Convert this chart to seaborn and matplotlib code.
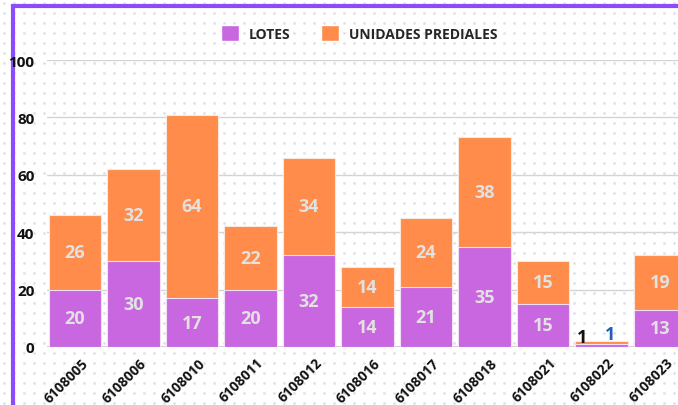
import numpy as np
import pandas as pd
import matplotlib
matplotlib.use("Agg")
import matplotlib.pyplot as plt
import seaborn as sns
from matplotlib.patches import Patch

# data
predios = ["6108005", "6108006", "6108010", "6108011", "6108012", "6108016",
           "6108017", "6108018", "6108021", "6108022", "6108023"]
lotes = [20, 30, 17, 20, 32, 14, 21, 35, 15, 1, 13]
unidades = [26, 32, 64, 22, 34, 14, 24, 38, 15, 1, 19]
y_ticks = [0, 20, 40, 60, 80, 100]

C_LOTES = "#c867e0"
C_UNID = "#ff8c4a"
C_BORDER = "#8c4cfc"
C_LABEL = "#e2e2e2"

sns.set_theme(style="white")
plt.rcParams["font.family"] = ["Open Sans", "DejaVu Sans"]

df = pd.DataFrame({"predio": predios, "lotes": lotes, "unidades": unidades})
df["total"] = df["lotes"] + df["unidades"]

W, H = 678, 406
fig = plt.figure(figsize=(W / 100, H / 100), dpi=100)

# dotted background
bg = fig.add_axes([0, 0, 1, 1])
bg.set_xlim(0, W)
bg.set_ylim(H, 0)
gx, gy = np.meshgrid(np.arange(4, W, 10), np.arange(4, H, 10))
bg.scatter(gx.ravel(), gy.ravel(), s=4, color="#e0e0e8", linewidths=0)
# purple frame (top + left)
bg.plot([13, 13, W], [H, 7, 7], color=C_BORDER, lw=3, solid_joinstyle="miter")
bg.axis("off")

# plot area
x0, x1, ytop, ybot = 47, W, 61, 348
ax = fig.add_axes([x0 / W, (H - ybot) / H, (x1 - x0) / W, (ybot - ytop) / H])
ax.patch.set_alpha(0)

sns.barplot(data=df, x="predio", y="total", color=C_UNID, width=0.89, saturation=1,
            edgecolor="#fbe6dc", linewidth=0.8, ax=ax, zorder=3)
sns.barplot(data=df, x="predio", y="lotes", color=C_LOTES, width=0.89, saturation=1,
            edgecolor="#f1e0f6", linewidth=0.8, ax=ax, zorder=4)

step = 58.5
c0 = 75
ax.set_xlim(-(c0 - x0) / step, (x1 - c0) / step)
ax.set_ylim(0, 100)
ax.set_yticks(y_ticks)
# labels sit a little right of the bar centre in the reference
ax.set_xticks(np.arange(len(predios)) + 0.1, predios)
ax.yaxis.grid(True, color="#d4d4d4", lw=1, zorder=0)
ax.axhline(0, color="#cfcfcf", lw=1.5, zorder=2)
for s in ax.spines.values():
    s.set_visible(False)
ax.set_xlabel("")
ax.set_ylabel("")
ax.tick_params(axis="y", length=0, pad=9, labelsize=11)
ax.tick_params(axis="x", length=0, pad=6, labelsize=10)
for t in ax.get_yticklabels():
    t.set_fontweight("bold")
    t.set_color("#111111")
plt.setp(ax.get_xticklabels(), rotation=45, ha="right", rotation_mode="anchor",
         fontweight="bold", color="#111111")

# segment labels
for i, row in df.iterrows():
    lo, un = row["lotes"], row["unidades"]
    if lo < 4 and un < 4:
        ax.text(i - 0.33, row["total"] - 1.5, str(lo), ha="center", va="bottom",
                fontsize=13, fontweight="bold", color="#111111", zorder=6)
        ax.text(i + 0.15, row["total"] - 0.5, str(un), ha="center", va="bottom",
                fontsize=13, fontweight="bold", color="#1f5fb5", zorder=6)
        continue
    ax.text(i, lo / 2, str(lo), ha="center", va="center", fontsize=13,
            fontweight="bold", color=C_LABEL, zorder=6)
    ax.text(i, lo + un / 2, str(un), ha="center", va="center", fontsize=13,
            fontweight="bold", color=C_LABEL, zorder=6)

handles = [Patch(facecolor=C_LOTES, label="LOTES"),
           Patch(facecolor=C_UNID, label="UNIDADES PREDIALES")]
leg = fig.legend(handles=handles, loc="center", bbox_to_anchor=(359 / W, 1 - 34 / H),
                 ncol=2, frameon=False, handlelength=1.3, handleheight=1.3,
                 columnspacing=2.2, handletextpad=0.7,
                 prop={"weight": "bold", "size": 10})

fig.savefig("out.png", dpi=100)
